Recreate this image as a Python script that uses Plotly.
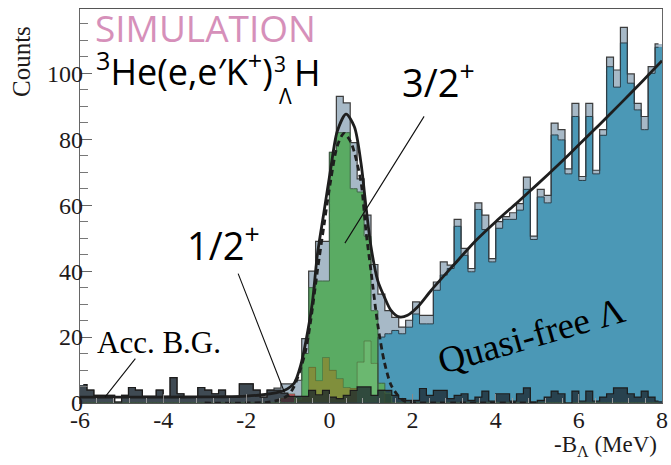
import numpy as np
import plotly.graph_objects as go

# ---------------- data ----------------
bin_lo, bin_hi, n_bins = -6.0, 8.0, 84

acc_bg = [5.6, 3.9, 2.3, 2.3, 2.3, 0.3, 2.3, 4.7, 3.9, 2.0,
          2.0, 3.9, 2.0, 7.7, 2.8, 1.8, 1.8, 4.7, 3.9, 2.8,
          3.9, 1.8, 1.8, 5.8, 5.8, 3.9, 1.8, 3.9, 3.9, 3.0,
          2.0, 2.0, 2.0, 3.8, 2.5, 3.8, 1.8, 1.3, 2.3, 3.8,
          4.9, 4.9, 2.3, 3.8, 3.8, 2.3, 1.3, 0.8, 0.8, 4.4,
          2.3, 3.8, 3.8, 1.3, 2.3, 2.8, 0.8, 1.8, 3.6, 0.6,
          2.8, 2.8, 0.6, 2.8, 4.6, 0.3, 0.8, 1.8, 3.6, 2.8,
          0.0, 3.6, 0.6, 3.6, 0.6, 1.8, 2.8, 4.6, 4.6, 2.8,
          1.8, 3.6, 1.8, 0.6]

total = [5.6, 3.9, 2.3, 2.3, 2.3, 0.3, 2.3, 4.7, 3.9, 2.0,
         2.0, 3.9, 2.0, 7.7, 2.8, 1.8, 1.8, 4.7, 3.9, 2.8,
         3.9, 1.8, 1.8, 5.8, 5.8, 3.9, 1.8, 3.9, 4.5, 5.8,
         5.8, 6.9, 19.5, 40.0, 49.0, 49.0, 76.0, 93.0, 91.0, 79.0,
         68.0, 57.0, 42.0, 33.0, 28.0, 26.0, 23.0, 25.1, 30.7, 26.6,
         26.6, 36.7, 42.8, 41.8, 55.7, 46.9, 40.8, 60.7, 57.0, 43.8,
         55.0, 56.5, 57.7, 60.5, 68.5, 50.6, 64.8, 63.0, 84.9, 82.9,
         71.0, 90.9, 68.7, 90.9, 70.6, 82.9, 104.9, 101.0, 113.9, 99.8,
         90.9, 86.9, 102.0, 108.9]

quasi_free = [0.0] * 43 + [
    20.0, 21.0, 22.0, 21.0, 23.0, 27.0, 24.0, 24.0, 34.2, 38.8,
    40.8, 53.6, 44.8, 39.8, 58.7, 52.6, 42.8, 53.0, 55.7, 55.7,
    58.5, 64.8, 49.6, 62.5, 60.7, 81.3, 79.8, 69.5, 86.9, 67.5,
    86.9, 69.5, 81.2, 102.0, 95.8, 109.2, 97.0, 88.9, 82.9, 100.0,
    107.9]

state_32 = [0.0] * 31 + [2.0, 15.0, 35.0, 37.0, 37.0, 76.0, 82.0, 82.0, 65.0, 64.0,
                         50.6, 28.0, 6.0, 3.0] + [0.0] * 39

state_12 = [0.0] * 29 + [1.5, 2.8, 1.0, 2.0, 10.8, 6.8, 13.8, 9.9, 7.4, 4.7,
                         4.4, 12.4, 18.8, 12.0, 4.0] + [0.0] * 40

# total fit (solid) and 3/2+ component fit (dashed)
fit_x = [-6, -5, -4, -3, -2.5, -2, -1.6, -1.3, -1.09, -0.85, -0.69, -0.57, -0.41,
         -0.29, -0.13, 0.03, 0.19, 0.40, 0.6, 0.76, 0.88, 1.0, 1.16, 1.32, 1.48,
         1.68, 1.88, 2.12, 2.45, 3.0, 3.5, 4.0, 4.5, 5.0, 5.5, 6.0,
         6.5, 7.0, 7.5, 8.0]
fit_y = [1.8, 1.8, 1.8, 1.85, 1.9, 2.1, 2.5, 3.1, 3.8, 6.0, 11.5, 18.5, 30.5,
         45.0, 58.0, 71.0, 82.5, 87.6, 83.8, 72.7, 59.5, 47.4, 37.2, 32.2, 28.1,
         26.1, 26.6, 29.1, 34.2, 42.0, 49.0, 55.0, 60.6, 66.3, 72.2, 78.3,
         84.5, 90.8, 97.2, 103.8]

comp_x = [-3, -2, -1.5, -1.2, -1.0, -0.85, -0.69, -0.57, -0.45, -0.29, -0.13,
          0.03, 0.19, 0.35, 0.5, 0.6, 0.76, 0.88, 1.0, 1.16, 1.32, 1.48, 1.64,
          1.8, 2.0, 2.5, 3, 4, 5]
comp_y = [0, 0, 0.2, 1.0, 2.3, 5.0, 10.5, 16.0, 25.0, 40.0, 54.0, 67.5, 78.0,
          81.8, 79.5, 76.0, 67.0, 52.0, 40.0, 24.0, 12.5, 5.5, 2.4, 0.6, 0.1,
          0, 0, 0, 0]

x_ticks = [-6, -4, -2, 0, 2, 4, 6, 8]
x_tick_labels = ["-6", "-4", "-2", "0", "2", "4", "6", "8"]
y_ticks = [0, 20, 40, 60, 80, 100]
y_tick_labels = ["0", "20", "40", "60", "80", "100"]

# ---------------- figure ----------------
edges = np.linspace(bin_lo, bin_hi, n_bins + 1)
centers = 0.5 * (edges[:-1] + edges[1:])
bw = edges[1] - edges[0]

c_red = "rgba(200,25,25,0.6)"
c_olive = "rgba(160,120,30,0.55)"
c_light = "rgba(160,225,150,0.25)"
s12_colors = [c_red if i < 31 else (c_olive if i < 40 else c_light) for i in range(n_bins)]

fig = go.Figure()


def add_bar(vals, color):
    fig.add_trace(go.Bar(x=centers, y=vals, width=bw, marker=dict(color=color, line=dict(width=0)),
                         showlegend=False, hoverinfo="skip"))


add_bar(total, "#a7b9c7")
add_bar(quasi_free, "#4b98b6")
add_bar(state_32, "#5aab63")
add_bar(state_12, s12_colors)
add_bar(acc_bg, "rgba(28,38,44,0.75)")


def add_outline(vals, color, w):
    fig.add_trace(go.Scatter(x=centers, y=vals, mode="lines", line=dict(color=color, width=w, shape="hvh"),
                             showlegend=False, hoverinfo="skip"))


add_outline(total, "#3c3c3c", 1.2)
add_outline(quasi_free, "#2d3e48", 1.0)
add_outline(state_32, "#3f6446", 1.0)
add_outline(state_12, "rgba(70,80,40,0.45)", 1.0)
add_outline(acc_bg, "#1c1c1c", 1.2)

fig.add_trace(go.Scatter(x=comp_x, y=comp_y, mode="lines",
                         line=dict(color="#1e1e1e", width=2.8, dash="6px,4px", shape="spline", smoothing=0.8),
                         showlegend=False, hoverinfo="skip"))
fig.add_trace(go.Scatter(x=fit_x, y=fit_y, mode="lines",
                         line=dict(color="#1e1e1e", width=2.8, shape="spline", smoothing=0.8),
                         showlegend=False, hoverinfo="skip"))

serif = "Liberation Serif"
sans = "Open Sans"
tick_col = "#1e1a1a"

L, R, T, B = 80, 9, 9, 62
W, H = 671, 465
pw, ph = W - L - R, H - T - B


def px(x):
    return (x - L) / pw


def py(y):
    return (H - B - y) / ph


ann = []
ann.append(dict(text="SIMULATION", x=px(93), y=py(27), xref="paper", yref="paper", xanchor="left",
                yanchor="middle", showarrow=False, font=dict(family=sans, size=37, color="#d690ba")))
ann.append(dict(text="<sup>3</sup>He(e,e′K<sup>+</sup>)", x=px(94), y=py(70), xref="paper", yref="paper",
                xanchor="left", yanchor="middle", showarrow=False, font=dict(family=sans, size=36, color="black")))
ann.append(dict(text="3", x=px(280), y=py(64), xref="paper", yref="paper", xanchor="center",
                yanchor="middle", showarrow=False, font=dict(family=sans, size=21, color="black")))
ann.append(dict(text="Λ", x=px(285), y=py(96), xref="paper", yref="paper", xanchor="center",
                yanchor="middle", showarrow=False, font=dict(family=sans, size=21, color="black")))
ann.append(dict(text="H", x=px(292), y=py(72), xref="paper", yref="paper", xanchor="left",
                yanchor="middle", showarrow=False, font=dict(family=sans, size=36, color="black")))
ann.append(dict(text="3/2<sup>+</sup>", x=px(400), y=py(80), xref="paper", yref="paper", xanchor="left",
                yanchor="middle", showarrow=False, font=dict(family=sans, size=38, color="black")))
ann.append(dict(text="1/2<sup>+</sup>", x=px(185), y=py(244), xref="paper", yref="paper", xanchor="left",
                yanchor="middle", showarrow=False, font=dict(family=sans, size=38, color="black")))
ann.append(dict(text="Acc. B.G.", x=px(95), y=py(342), xref="paper", yref="paper", xanchor="left",
                yanchor="middle", showarrow=False, font=dict(family=serif, size=31, color="black")))
ann.append(dict(text="Quasi-free Λ", x=px(531), y=py(335), xref="paper", yref="paper", xanchor="center",
                yanchor="middle", showarrow=False, textangle=-16, font=dict(family=serif, size=37, color="black")))
ann.append(dict(text="Counts", x=px(21), y=py(62), xref="paper", yref="paper", xanchor="center",
                yanchor="middle", showarrow=False, textangle=-90, font=dict(family=serif, size=25, color=tick_col)))
ann.append(dict(text="-B<sub>Λ</sub> (MeV)", x=px(659), y=py(446), xref="paper", yref="paper",
                xanchor="right", yanchor="middle", showarrow=False, font=dict(family=serif, size=23, color=tick_col)))

# pointer lines
for (hx, hy, tx, ty) in [(0.372, 48.5, 2.30, 87.4), (-1.08, 3.2, -2.21, 39.7), (-5.40, 1.8, -4.64, 13.9)]:
    ann.append(dict(text="", x=hx, y=hy, ax=tx, ay=ty, xref="x", yref="y", axref="x", ayref="y",
                    showarrow=True, arrowhead=0, arrowwidth=1.1, arrowcolor="#111", standoff=0, startstandoff=0))

fig.update_layout(
    width=W, height=H,
    margin=dict(l=L, r=R, t=T, b=B, autoexpand=False),
    paper_bgcolor="white", plot_bgcolor="white",
    barmode="overlay", bargap=0, showlegend=False,
    annotations=ann,
)
fig.update_xaxes(range=[bin_lo, bin_hi], tickmode="array", tickvals=x_ticks, ticktext=x_tick_labels,
                 ticks="inside", ticklen=9, tickcolor="#888", tickwidth=1,
                 minor=dict(dtick=0.4, tick0=0, ticks="inside", ticklen=5, tickcolor="#999"),
                 showgrid=False, zeroline=False, showline=True, linecolor="#555", linewidth=1.4, mirror=True,
                 tickfont=dict(family=serif, size=24, color=tick_col), ticklabelstandoff=-5)
fig.update_yaxes(range=[0, 119.5], tickmode="array", tickvals=y_ticks, ticktext=y_tick_labels,
                 ticks="inside", ticklen=12, tickcolor="#666", tickwidth=1,
                 minor=dict(dtick=5, tick0=0, ticks="inside", ticklen=8, tickcolor="#777"),
                 showgrid=False, zeroline=False, showline=True, linecolor="#666", linewidth=1.2, mirror=True,
                 tickfont=dict(family=serif, size=24, color=tick_col), ticklabelstandoff=-9)

fig.write_html("out.html", config={"displayModeBar": False},
               post_script="document.body.style.margin='0px';document.body.style.padding='0px';")
